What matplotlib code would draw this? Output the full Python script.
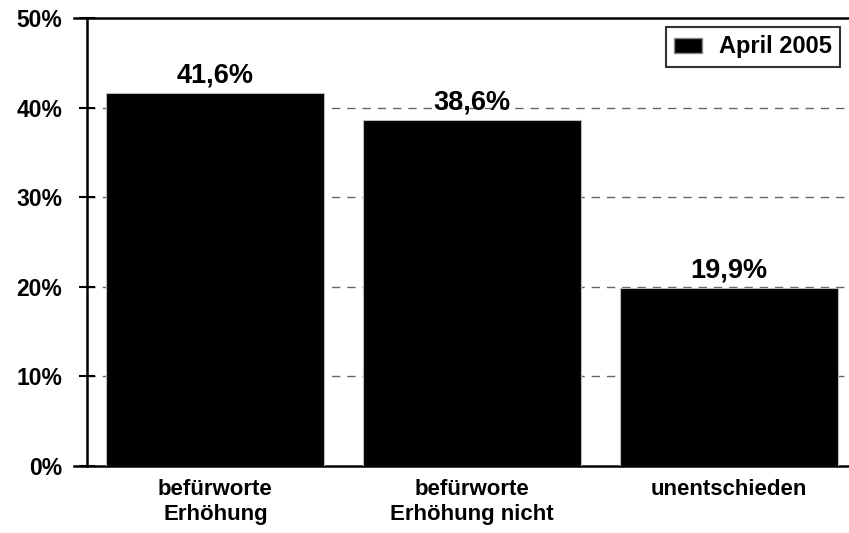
import matplotlib.pyplot as plt
from matplotlib.patches import Patch

# data
categories = ['befürworte\nErhöhung', 'befürworte\nErhöhung nicht', 'unentschieden']
values = [41.6, 38.6, 19.9]
value_labels = ['41,6%', '38,6%', '19,9%']
yticks = [0, 10, 20, 30, 40, 50]
ytick_labels = ['0%', '10%', '20%', '30%', '40%', '50%']
series_name = 'April 2005'

plt.rcParams['font.family'] = ['Liberation Sans', 'DejaVu Sans']
plt.rcParams['font.weight'] = 'bold'

fig = plt.figure(figsize=(8.49, 5.33), dpi=100)
ax = fig.add_axes([0.1025, 0.1257, 0.9069, 0.8403])

x = list(range(len(categories)))
ax.bar(x, values, width=0.85, color='black', edgecolor='#bbbbbb', linewidth=0.8, zorder=3)

for xi, v, lab in zip(x, values, value_labels):
    ax.text(xi, v + 0.5, lab, ha='center', va='bottom', fontsize=19.5, fontweight='bold', zorder=4)

ax.set_xlim(-0.5, 2.5)
ax.set_ylim(0, 50)
ax.set_yticks(yticks)
ax.set_yticklabels(ytick_labels, fontsize=16.5, fontweight='bold')
ax.set_xticks(x)
ax.set_xticklabels(categories, fontsize=16, fontweight='bold', linespacing=1.25)
ax.tick_params(axis='x', length=0, pad=9)
ax.tick_params(axis='y', direction='inout', length=12, width=1.5, pad=12)

for g in [10, 20, 30, 40]:
    ax.axhline(g, color='#666666', linestyle=(0, (6, 5)), linewidth=1, zorder=1)

for s in ['left', 'top', 'bottom', 'right']:
    ax.spines[s].set_linewidth(1.8)
ax.spines['bottom'].set_bounds(-0.55, 2.5)
ax.spines['top'].set_bounds(-0.55, 2.5)
ax.spines['bottom'].set_clip_on(False)
ax.spines['top'].set_clip_on(False)

leg = ax.legend(handles=[Patch(facecolor='black', edgecolor='#888888', label=series_name)],
                loc='upper right', bbox_to_anchor=(0.978, 0.98),
                prop={'size': 17, 'weight': 'bold'}, frameon=True, fancybox=False,
                handlelength=1.2, handleheight=0.6, borderpad=0.35, handletextpad=0.7,
                borderaxespad=0)
leg.get_frame().set_edgecolor('black')
leg.get_frame().set_linewidth(1.5)

fig.savefig('out.png', dpi=100)
